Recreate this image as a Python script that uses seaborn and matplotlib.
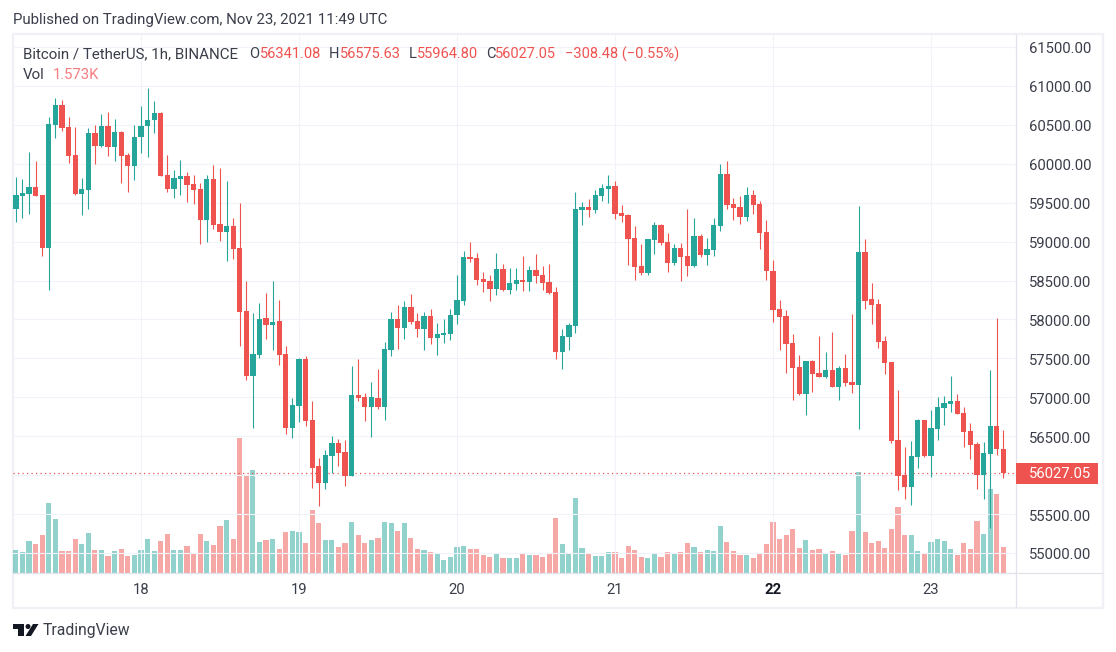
import numpy as np
import pandas as pd
import seaborn as sns
import matplotlib as mpl
from matplotlib import pyplot as plt


openPrices = [59415, 59580, 59607, 59697, 59594, 58915, 60504, 60760, 60466, 60107, 59607, 59658, 60389, 60222, 60479, 60210,
              60402, 60107, 59966, 60338, 60479, 60556, 60658, 59850, 59671, 59799, 59838, 59735, 59671, 59273, 59799, 59222,
              59120, 59197, 58915, 58107, 57273, 57543, 58017, 57927, 57979, 57555, 56607, 56889, 57491, 56709, 56119, 55901,
              56248, 56414, 56299, 55991, 57030, 57004, 56876, 56991, 56876, 57607, 58004, 57889, 58158, 57979, 57876, 58043,
              57760, 57799, 57812, 58055, 58235, 58799, 58786, 58517, 58491, 58389, 58645, 58376, 58453, 58504, 58479, 58632,
              58568, 58479, 58350, 57581, 57773, 57914, 59402, 59440, 59402, 59581, 59671, 59709, 59363, 59338, 59043, 58684,
              58594, 59017, 59209, 58991, 58722, 58915, 58812, 58684, 59068, 58825, 58889, 59197, 59863, 59479, 59440, 59312,
              59594, 59479, 59120, 58620, 58132, 58043, 57696, 57389, 57043, 57466, 57312, 57261, 57350, 57132, 57376, 57196,
              57158, 58863, 58261, 58197, 57722, 57453, 56453, 56004, 55850, 56235, 56709, 56248, 56594, 56863, 56914, 56953,
              56799, 56568, 56401, 56004, 56273, 56632, 56341.08]
highPrices = [59825, 59800, 60145, 60030, 59594, 60607, 60850, 60825, 60607, 60466, 59812, 60453, 60492, 60645, 60671, 60581,
              60415, 60133, 60504, 60748, 60979, 60812, 60671, 60107, 59915, 60043, 59889, 59850, 59748, 59850, 59979, 59940,
              59774, 59299, 59491, 58491, 58081, 58209, 58338, 58491, 58248, 57658, 56991, 57504, 57530, 56953, 56222, 56324,
              56504, 56466, 56453, 57402, 57491, 57055, 57196, 57363, 57709, 58094, 58184, 58235, 58325, 58081, 58094, 58132,
              57953, 58004, 58132, 58568, 58876, 58991, 58850, 58607, 58568, 58850, 58709, 58658, 58658, 58812, 58684, 58838,
              58684, 58709, 58415, 57876, 57953, 59633, 59504, 59543, 59658, 59735, 59850, 59774, 59466, 59350, 59197, 58966,
              59030, 59248, 59222, 59107, 58966, 58979, 59415, 59299, 59094, 59043, 59299, 59992, 60030, 59556, 59581, 59697,
              59658, 59517, 59274, 58761, 58248, 58120, 57812, 57543, 57466, 57478, 57786, 57581, 57837, 57402, 57555, 58068,
              59453, 59030, 58466, 58261, 57786, 57453, 57094, 56363, 56440, 56722, 56709, 56837, 57004, 57017, 57273, 57043,
              56876, 56671, 56427, 56427, 57350, 58017, 56575.63]
lowPrices = [59248, 59300, 59350, 59580, 58810, 58376, 60325, 60427, 60004, 59594, 59338, 59415, 59992, 60210, 60094, 60030,
             59748, 59632, 59786, 60133, 60081, 60389, 59838, 59632, 59556, 59594, 59504, 59479, 58966, 58991, 59158, 59004,
             58748, 58773, 57658, 57222, 56607, 57504, 57748, 57607, 57414, 56530, 56478, 56684, 56632, 55837, 55607, 55824,
             56030, 56119, 55863, 55991, 56953, 56696, 56491, 56850, 56709, 57530, 57619, 57748, 57940, 57773, 57607, 57684,
             57543, 57696, 57735, 57940, 58184, 58735, 58440, 58350, 58235, 58312, 58363, 58325, 58376, 58363, 58363, 58466,
             58376, 58325, 57491, 57363, 57607, 57825, 59209, 59312, 59363, 59517, 59491, 59286, 59248, 58697, 58504, 58568,
             58568, 58838, 58953, 58607, 58697, 58491, 58556, 58671, 58799, 58697, 58812, 59132, 59415, 59274, 59222, 59261,
             59350, 58902, 58504, 57966, 57607, 57312, 56966, 57030, 56773, 57068, 57261, 57248, 57132, 56966, 57145, 57055,
             56594, 58132, 57940, 57632, 57299, 56414, 55812, 55696, 55619, 56094, 56235, 55978, 56453, 56645, 56812, 56786,
             56363, 56209, 55824, 55696, 55315, 56260, 55964.80]
closePrices = [59594, 59620, 59697, 59580, 58915, 60517, 60760, 60453, 60094, 59607, 59671, 60389, 60222, 60479, 60210, 60402,
               60094, 59966, 60350, 60491, 60568, 60658, 59838, 59671, 59812, 59838, 59722, 59658, 59273, 59799, 59209, 59120,
               59197, 58902, 58094, 57273, 57555, 58004, 57927, 57966, 57543, 56607, 56901, 57491, 56696, 56094, 55901, 56260,
               56414, 56286, 55991, 57030, 56991, 56876, 57004, 56876, 57619, 58004, 57889, 58158, 57966, 57876, 58043, 57760,
               57812, 57825, 58055, 58248, 58799, 58773, 58504, 58479, 58389, 58645, 58376, 58466, 58504, 58479, 58632, 58555,
               58466, 58338, 57581, 57786, 57927, 59415, 59440, 59402, 59594, 59684, 59709, 59350, 59325, 59030, 58671, 58594,
               59030, 59209, 58979, 58722, 58915, 58799, 58684, 59068, 58825, 58902, 59209, 59863, 59466, 59427, 59312, 59594,
               59466, 59107, 58620, 58120, 58030, 57684, 57376, 57043, 57466, 57299, 57261, 57350, 57132, 57376, 57184, 57158,
               58863, 58235, 58184, 57709, 57440, 56440, 55991, 55850, 56248, 56709, 56248, 56607, 56876, 56927, 56953, 56786,
               56555, 56389, 56004, 56286, 56632, 56337, 56027.05]
volumes = [1380, 1260, 1920, 1740, 2280, 4200, 3240, 1320, 1320, 2040, 1740, 2400, 1380, 1380, 1020, 1320,
           1440, 1020, 1080, 1380, 2040, 1320, 1920, 2340, 1380, 1380, 1620, 1140, 2340, 1920, 1680, 2820,
           3180, 2040, 8100, 5820, 6180, 1860, 1980, 2040, 1440, 2460, 2520, 2460, 1800, 3780, 3000, 1980,
           1980, 1560, 1800, 3060, 2280, 1800, 1980, 2100, 3060, 3000, 2520, 3000, 2100, 1440, 1380, 1260,
           1140, 780, 960, 1560, 1620, 1440, 1440, 1080, 960, 1140, 900, 900, 900, 1140, 1080, 1080,
           960, 1140, 3300, 1740, 1140, 4500, 1500, 1140, 1020, 1020, 1260, 1260, 900, 1620, 1380, 960,
           900, 1200, 960, 1260, 1140, 1260, 1800, 1560, 1260, 1380, 1320, 2820, 1860, 1320, 1080, 1080,
           900, 1140, 1740, 3060, 2040, 2280, 2640, 1500, 1980, 1380, 1440, 1140, 1320, 1200, 1080, 2520,
           6060, 2460, 1800, 1920, 1500, 2640, 3960, 2280, 2280, 1320, 1200, 1860, 2040, 1920, 1440, 1080,
           1800, 1440, 3120, 2340, 5040, 4740, 1573]
priceTicks = [55000, 55500, 56000, 56500, 57000, 57500, 58000, 58500, 59000, 59500, 60000, 60500, 61000, 61500]
dayLabels = ['18', '19', '20', '21', '22', '23']
dayHours = [19, 43, 67, 91, 115, 139]

GREEN = '#26a69a'
RED = '#ef5350'
GRID = '#f0f3fa'
FRAME = '#f0f1f6'
WIDTH = 1116
HEIGHT = 652


def pixBox(left, top, right, bottom):
    return [left / WIDTH, 1 - bottom / HEIGHT, (right - left) / WIDTH, (bottom - top) / HEIGHT]


def figText(fig, x, y, text, **kwargs):
    fig.text(x / WIDTH, 1 - y / HEIGHT, text, va='center', **kwargs)


def genDf():
    df = pd.DataFrame({'hour': np.arange(len(openPrices)), 'open': openPrices, 'high': highPrices,
                       'low': lowPrices, 'close': closePrices, 'volume': volumes})
    df['direction'] = np.where(df['close'] >= df['open'], 'up', 'down')
    df['base'] = df[['open', 'close']].min(axis=1)
    df['body'] = (df['close'] - df['open']).abs()

    return df


def plotVolume(df, ax):
    sns.barplot(x="hour", y="volume", hue="direction", data=df, ax=ax, native_scale=True,
                palette={'up': GREEN, 'down': RED}, dodge=False, errorbar=None, legend=False,
                saturation=1, alpha=0.5, width=0.78, linewidth=0)
    ax.set(xlim=[-0.44, 151.92], ylim=[0, 32280])
    ax.set_axis_off()


def plotCandles(df, ax):
    ax.set_facecolor('none')
    ax.vlines(df['hour'], df['low'], df['high'], colors=np.where(df['direction'] == 'up', GREEN, RED),
              linewidth=0.8, zorder=3)

    for direction, color in [('up', GREEN), ('down', RED)]:
        part = df[df['direction'] == direction]
        sns.barplot(x=part['hour'], y=part['body'], ax=ax, native_scale=True, color=color, saturation=1,
                    errorbar=None, width=0.8, linewidth=0, bottom=part['base'].values, zorder=4)

    ax.axhline(closePrices[-1], color=RED, linewidth=0.9, linestyle=(0, (1, 2.6)), zorder=2)

    ax.set(xlim=[-0.44, 151.92], ylim=[54743, 61654], xlabel='', ylabel='')
    ax.set_xticks(dayHours, dayLabels)
    # the last price box covers the 56000 label
    ax.set_yticks(priceTicks, ['' if tick == 56000 else '%.2f' % tick for tick in priceTicks])
    ax.yaxis.tick_right()
    ax.tick_params(axis='y', length=0, pad=9.5, labelsize=10.7, labelcolor='#3a3e4a')
    ax.tick_params(axis='x', length=0, pad=7.5, labelsize=10.7, labelcolor='#3a3e4a')
    ax.get_xticklabels()[4].set_fontweight('bold')
    ax.get_xticklabels()[4].set_color('#131722')
    ax.grid(True, color=GRID, linewidth=0.8, zorder=0)
    ax.set_axisbelow(True)
    for side in ['top', 'left']:
        ax.spines[side].set_visible(False)
    for side in ['bottom', 'right']:
        ax.spines[side].set_color('#e0e3eb')
        ax.spines[side].set_linewidth(0.9)


def plotFrame(fig):
    frame = plt.Rectangle((13 / WIDTH, 1 - 608 / HEIGHT), 1090 / WIDTH, 574 / HEIGHT, transform=fig.transFigure,
                          facecolor='none', edgecolor=FRAME, linewidth=1.7)
    fig.add_artist(frame)
    fig.add_artist(plt.Line2D([1016 / WIDTH] * 2, [1 - 573 / HEIGHT, 1 - 607 / HEIGHT], color='#e0e3eb', linewidth=0.9))
    fig.add_artist(plt.Line2D([1016 / WIDTH, 1102 / WIDTH], [1 - 573 / HEIGHT] * 2, color='#e0e3eb', linewidth=0.9))
    fig.add_artist(plt.Rectangle((1016 / WIDTH, 1 - 484 / HEIGHT), 82 / WIDTH, 21 / HEIGHT, transform=fig.transFigure,
                                 facecolor=RED, edgecolor='none', zorder=5))
    figText(fig, 1029, 474, '%.2f' % closePrices[-1], color='white', fontsize=10.7, zorder=6)


def plotLogo(fig):
    dark = '#131722'
    shapes = [[(13, 624), (24, 624), (24, 636), (18, 636), (18, 629), (13, 629)],
              [(33, 624), (38.5, 624), (31, 636), (25.5, 636)]]
    for shape in shapes:
        points = [(x / WIDTH, 1 - y / HEIGHT) for x, y in shape]
        fig.add_artist(plt.Polygon(points, transform=fig.transFigure, facecolor=dark, edgecolor='none'))
    fig.add_artist(mpl.patches.Ellipse((28 / WIDTH, 1 - 626.5 / HEIGHT), 5 / WIDTH, 5 / HEIGHT,
                                       transform=fig.transFigure, facecolor=dark, edgecolor='none'))
    figText(fig, 43, 630.5, 'TradingView', color='#3a3e4a', fontsize=11.3)


def plotHeader(fig):
    dark = '#3a3e4a'
    figText(fig, 13, 20, 'Published on TradingView.com, Nov 23, 2021 11:49 UTC', color=dark, fontsize=10.8)
    figText(fig, 23, 54, 'Bitcoin / TetherUS, 1h, BINANCE', color=dark, fontsize=10.9)
    figText(fig, 23, 75, 'Vol', color=dark, fontsize=10.9)
    figText(fig, 53, 75, '1.573K', color='#f77c80', fontsize=10.7)
    for x, label in [(249, 'O'), (329, 'H'), (409, 'L'), (486, 'C')]:
        figText(fig, x, 54, label, color=dark, fontsize=10.5)
    for x, value in [(260, '56341.08'), (340, '56575.63'), (417, '55964.80'), (495, '56027.05'),
                     (565, '\u2212308.48 (\u22120.55%)')]:
        figText(fig, x, 54, value, color=RED, fontsize=10.5)


def run():
    mpl.use('Agg')
    plt.rcParams['font.family'] = 'Roboto'

    df = genDf()

    fig = plt.figure(figsize=(11.16, 6.52), dpi=100)
    volumeAx = fig.add_axes(pixBox(13, 35, 1016, 573), zorder=1)
    priceAx = fig.add_axes(pixBox(13, 35, 1016, 573), zorder=2)

    plotVolume(df, volumeAx)
    plotCandles(df, priceAx)
    plotFrame(fig)
    plotHeader(fig)
    plotLogo(fig)

    shift = mpl.transforms.ScaledTranslation(0, -1 / 100, fig.dpi_scale_trans)
    for label in priceAx.get_yticklabels():
        label.set_transform(label.get_transform() + shift)

    plt.savefig('out.png', format='png', dpi=100)


if __name__ == '__main__':
    run()
